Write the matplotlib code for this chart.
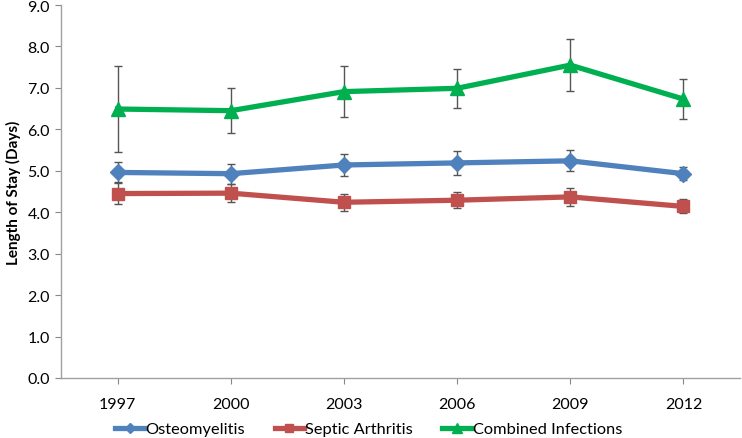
import matplotlib
matplotlib.use("Agg")
import matplotlib.pyplot as plt
import numpy as np

years = ["1997", "2000", "2003", "2006", "2009", "2012"]
osteo = [4.96, 4.93, 5.14, 5.19, 5.24, 4.93]
osteo_err = [0.24, 0.24, 0.27, 0.28, 0.25, 0.16]
septic = [4.45, 4.46, 4.24, 4.29, 4.37, 4.14]
septic_err = [0.25, 0.21, 0.20, 0.20, 0.21, 0.17]
combined = [6.49, 6.45, 6.91, 6.99, 7.55, 6.73]
combined_err = [1.03, 0.55, 0.61, 0.47, 0.62, 0.48]
yticks = [0.0, 1.0, 2.0, 3.0, 4.0, 5.0, 6.0, 7.0, 8.0, 9.0]

plt.rcParams['font.family'] = ['Lato', 'DejaVu Sans']

fig = plt.figure(figsize=(7.42, 4.39), dpi=100)
ax = fig.add_axes([61/742, 1-379/439, (740-61)/742, (379-6)/439])

x = np.arange(len(years))
series = [
    (osteo, osteo_err, "Osteomyelitis", "#4F81BD", "D", 8),
    (septic, septic_err, "Septic Arthritis", "#C0504D", "s", 9),
    (combined, combined_err, "Combined Infections", "#00B050", "^", 10),
]
handles = []
for vals, errs, lab, col, mk, ms in series:
    ax.errorbar(x, vals, yerr=errs, fmt='none', ecolor='#555555',
                elinewidth=1.0, capsize=3, capthick=1.0, zorder=2)
    h, = ax.plot(x, vals, color=col, lw=3.8, marker=mk, markersize=ms,
                 markeredgecolor=col, label=lab, zorder=3)
    handles.append(h)

ax.set_xlim(-0.5, len(years) - 0.5)
ax.set_ylim(0, 9)
ax.set_xticks(x)
ax.set_xticklabels(years)
ax.set_yticks(yticks)
ax.set_yticklabels([f"{v:.1f}" for v in yticks])
ax.tick_params(axis='both', labelsize=11.5, colors='#888888', labelcolor='black',
               length=4, width=0.8)
ax.tick_params(axis='x', pad=10)
ax.tick_params(axis='y', pad=4)
for s in ['top', 'right']:
    ax.spines[s].set_visible(False)
for s in ['left', 'bottom']:
    ax.spines[s].set_color('#A0A0A0')
    ax.spines[s].set_linewidth(1.0)

fig.text(0.018, 1 - 193/439, "Length of Stay (Days)", rotation=90,
         fontsize=11, fontweight='bold', ha='center', va='center')

fig.legend(handles=handles, loc='center', bbox_to_anchor=(0.497, 1 - 430/439),
           ncol=3, frameon=False, fontsize=11.8, handlelength=1.75,
           markerscale=0.65, handletextpad=0.1, columnspacing=1.8,
           borderaxespad=0)

fig.savefig("out.png", dpi=100)
